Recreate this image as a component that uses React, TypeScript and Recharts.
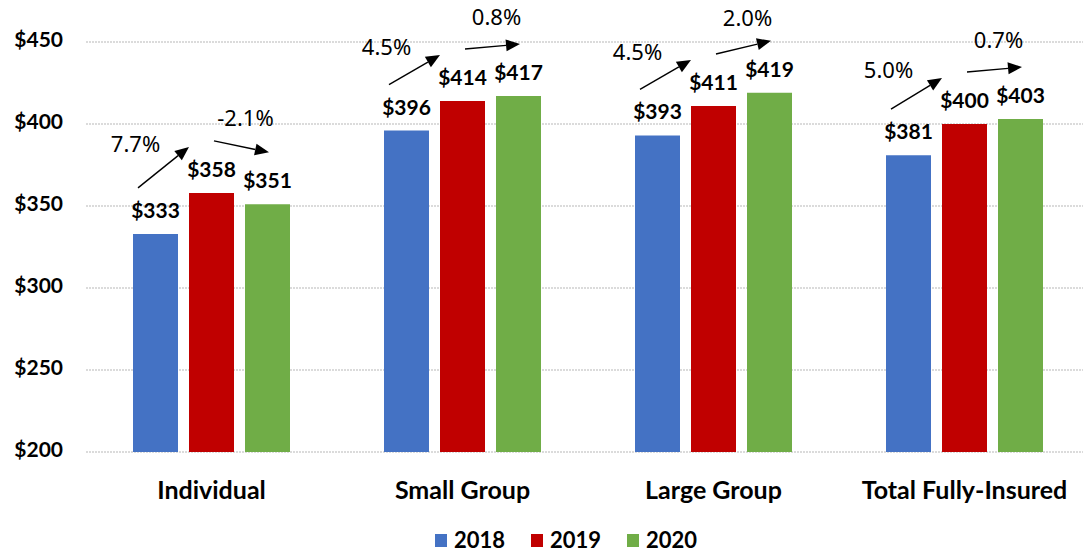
import { BarChart, Bar, XAxis, YAxis, CartesianGrid, Legend, LabelList } from 'recharts'

const categories = ['Individual', 'Small Group', 'Large Group', 'Total Fully-Insured']
const v2018 = [333, 396, 393, 381]
const v2019 = [358, 414, 411, 400]
const v2020 = [351, 417, 419, 403]
const pct1819 = ['7.7%', '4.5%', '4.5%', '5.0%']
const pct1920 = ['-2.1%', '0.8%', '2.0%', '0.7%']
const yTicks = [200, 250, 300, 350, 400, 450]

const Y_MIN = 200
const BAR_GAP = 11
const FONT = 'Lato, "Noto Sans", sans-serif'
const PCT_FONT = '"Noto Sans", Lato, sans-serif'

const data = categories.map((name, i) => ({
  name,
  y2018: v2018[i],
  y2019: v2019[i],
  y2020: v2020[i],
}))

const series = [
  { key: 'y2018', label: '2018', color: '#4472C4' },
  { key: 'y2019', label: '2019', color: '#C00000' },
  { key: 'y2020', label: '2020', color: '#70AD47' },
]

function Arrow({ x1, y1, x2, y2 }: { x1: number; y1: number; x2: number; y2: number }) {
  const dx = x2 - x1
  const dy = y2 - y1
  const len = Math.sqrt(dx * dx + dy * dy)
  const ux = dx / len
  const uy = dy / len
  const head = 14
  const half = 6
  const bx = x2 - ux * head
  const by = y2 - uy * head
  const pts = [
    `${x2},${y2}`,
    `${bx - uy * half},${by + ux * half}`,
    `${bx + uy * half},${by - ux * half}`,
  ].join(' ')
  return (
    <g>
      <line x1={x1} y1={y1} x2={bx} y2={by} stroke="#000" strokeWidth={1.4} />
      <polygon points={pts} fill="#000" />
    </g>
  )
}

// drawn on the 2019 bar: arrows from 2018 -> 2019 and 2019 -> 2020
const renderTrend = (props: any) => {
  const { x, y, width, height, index, value } = props
  const base = y + height
  const k = height / (value - Y_MIN)
  const yOf = (v: number) => base - (v - Y_MIN) * k
  const x18 = x - width - BAR_GAP
  const x20 = x + width + BAR_GAP
  const top18 = yOf(v2018[index])
  const top20 = yOf(v2020[index])

  const a1 = { x1: x18 + 5, y1: top18 - 46, x2: x, y2: y - 46 }
  const a2 = { x1: x + 25, y1: y - 52, x2: x20 + 24, y2: top20 - 52 }
  const m1 = { x: (a1.x1 + a1.x2) / 2 - 28, y: (a1.y1 + a1.y2) / 2 - 21 }
  const m2 = { x: (a2.x1 + a2.x2) / 2 + 4, y: (a2.y1 + a2.y2) / 2 - 27 }

  return (
    <g>
      <Arrow {...a1} />
      <Arrow {...a2} />
      <text x={m1.x} y={m1.y} textAnchor="middle" dominantBaseline="middle" fontSize={22} fontFamily={PCT_FONT} fill="#000">
        {pct1819[index]}
      </text>
      <text x={m2.x} y={m2.y} textAnchor="middle" dominantBaseline="middle" fontSize={22} fontFamily={PCT_FONT} fill="#000">
        {pct1920[index]}
      </text>
    </g>
  )
}

const YTick = (props: any) => {
  const { y, payload } = props
  return (
    <text x={63} y={y} textAnchor="end" dominantBaseline="middle" fontSize={21} fontWeight={700} fontFamily={FONT} fill="#000">
      ${payload.value}
    </text>
  )
}

const XTick = (props: any) => {
  const { x, y, payload } = props
  return (
    <text x={x} y={y + 33} textAnchor="middle" dominantBaseline="middle" fontSize={25} fontWeight={700} fontFamily={FONT} fill="#000">
      {payload.value}
    </text>
  )
}

const LegendContent = () => (
  <div
    style={{
      height: 30,
      boxSizing: 'border-box',
      paddingTop: 4,
      display: 'flex',
      justifyContent: 'center',
      gap: 26,
      fontFamily: FONT,
      fontWeight: 700,
      fontSize: 22,
      lineHeight: '26px',
      color: '#000',
    }}
  >
    {series.map((s) => (
      <div key={s.key} style={{ display: 'flex', alignItems: 'center', gap: 7 }}>
        <span style={{ width: 12, height: 13, background: s.color, display: 'inline-block' }} />
        <span>{s.label}</span>
      </div>
    ))}
  </div>
)

export default function App() {
  return (
    <div
      style={{
        position: 'absolute',
        left: 0,
        top: 0,
        width: 1083,
        height: 553,
        overflow: 'hidden',
        background: '#fff',
        fontFamily: FONT,
      }}
    >
      <BarChart
        width={1090}
        height={553}
        data={data}
        margin={{ top: 42, right: 0, bottom: 0, left: 0 }}
        barSize={45}
        barGap={BAR_GAP}
      >
        <CartesianGrid vertical={false} stroke="#cfcfcf" strokeWidth={1.5} strokeDasharray="2 1" />
        <XAxis dataKey="name" axisLine={false} tickLine={false} height={71} tick={<XTick />} interval={0} />
        <YAxis
          domain={[200, 450]}
          ticks={yTicks}
          axisLine={false}
          tickLine={false}
          width={86}
          tick={<YTick />}
          interval={0}
        />
        <Legend
          verticalAlign="bottom"
          content={<LegendContent />}
          wrapperStyle={{ left: 0, width: 1132, bottom: 0 }}
        />
        {series.map((s) => (
          <Bar key={s.key} dataKey={s.key} fill={s.color} isAnimationActive={false}>
            <LabelList
              dataKey={s.key}
              position="top"
              offset={16}
              formatter={(v: any) => `$${v}`}
              style={{ fontSize: 21, fontWeight: 700, fontFamily: FONT, fill: '#000' }}
            />
            {s.key === 'y2019' && <LabelList dataKey={s.key} content={renderTrend} />}
          </Bar>
        ))}
      </BarChart>
    </div>
  )
}
